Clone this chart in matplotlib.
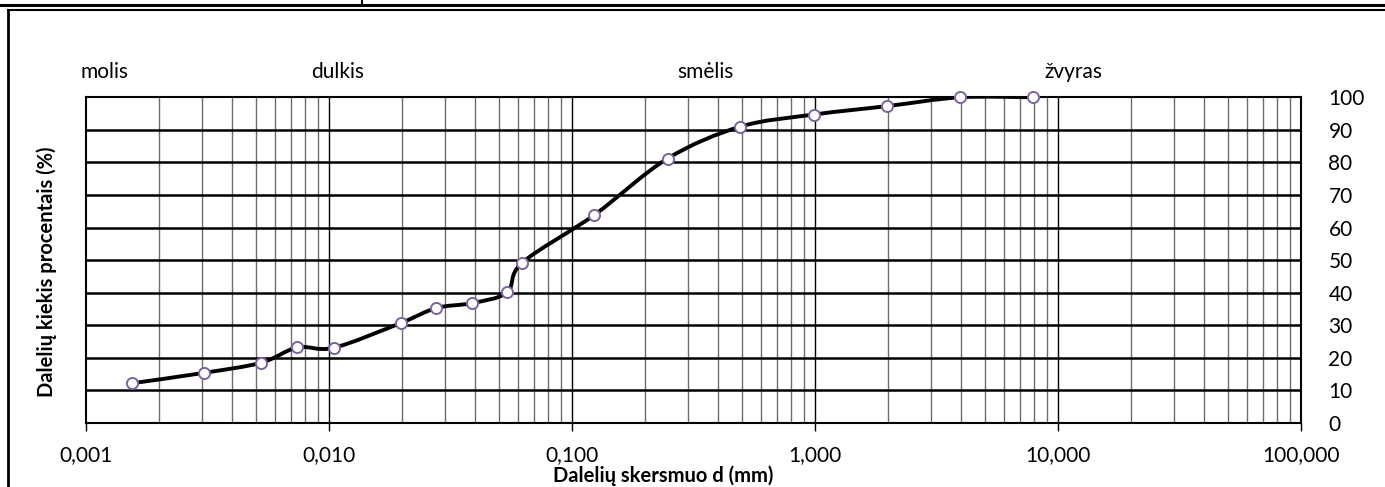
import numpy as np
import matplotlib
matplotlib.use("Agg")
import matplotlib.pyplot as plt
from matplotlib.path import Path
import matplotlib.patches as patches
from matplotlib.lines import Line2D
from matplotlib.ticker import FixedLocator, NullFormatter

plt.rcParams['font.family'] = ['Lato', 'DejaVu Sans']

# skersmuo d (mm) ir praėjusių dalelių kiekis (%)
d_mm = [0.00155, 0.00307, 0.00527, 0.00743, 0.0105, 0.0198, 0.0277, 0.0389,
        0.0542, 0.0625, 0.124, 0.248, 0.495, 0.99, 1.99, 3.97, 7.94]
kiekis = [12.2, 15.4, 18.5, 23.2, 23.1, 30.7, 35.3, 36.8,
          40.1, 49.2, 63.9, 81.2, 91.0, 94.7, 97.3, 100.0, 100.0]

x_ticks = [0.001, 0.01, 0.1, 1, 10, 100]
x_tick_labels = ['0,001', '0,010', '0,100', '1,000', '10,000', '100,000']
y_ticks = list(range(0, 101, 10))

zonos = ['molis', 'dulkis', 'smėlis', 'žvyras']
zonu_x = [80, 311, 677, 1044]   # kairys kraštas, px

W, H = 1385, 487
fig = plt.figure(figsize=(W / 100, H / 100), dpi=100)
L, R, T, B = 85.7, 1300.7, 97.3, 423.0
ax = fig.add_axes([L / W, 1 - B / H, (R - L) / W, (B - T) / H])

ax.set_xscale('log')
ax.set_xlim(0.001, 100)
ax.set_ylim(0, 100)

# tinklelis
minors = [m * 10.0 ** e for e in range(-3, 2) for m in range(2, 10)]
for xv in minors:
    ax.axvline(xv, color='#6e6e6e', lw=1.0, zorder=1)
for xv in x_ticks[1:-1]:
    ax.axvline(xv, color='black', lw=1.0, zorder=1)
for yv in y_ticks[1:-1]:
    ax.axhline(yv, color='black', lw=1.8, zorder=1)

for s in ['left', 'right', 'top', 'bottom']:
    ax.spines[s].set_linewidth(1.5)
    ax.spines[s].set_color('black')

ax.xaxis.set_major_locator(FixedLocator(x_ticks))
ax.set_xticklabels(x_tick_labels)
ax.xaxis.set_minor_locator(FixedLocator([]))
ax.xaxis.set_minor_formatter(NullFormatter())
ax.tick_params(axis='x', which='major', direction='out', length=6, width=1,
               labelsize=15, pad=10)

ax.yaxis.tick_right()
ax.set_yticks(y_ticks)
ax.tick_params(axis='y', which='major', length=0, labelsize=15, pad=20)
for lab in ax.get_yticklabels():
    lab.set_horizontalalignment('left')

# glotni kreivė (Excel stiliaus Bezier, skaičiuojama ekrano mastelyje)
sx, sy = 243.0, 3.257
u = np.log10(d_mm) * sx
v = np.array(kiekis) * sy
n = len(u)
verts = [(u[0], v[0])]
codes = [Path.MOVETO]
for i in range(n - 1):
    i0 = max(i - 1, 0)
    i3 = min(i + 2, n - 1)
    c1 = (u[i] + (u[i + 1] - u[i0]) / 6, v[i] + (v[i + 1] - v[i0]) / 6)
    c2 = (u[i + 1] - (u[i3] - u[i]) / 6, v[i + 1] - (v[i3] - v[i]) / 6)
    verts += [c1, c2, (u[i + 1], v[i + 1])]
    codes += [Path.CURVE4] * 3
verts = [(10 ** (a / sx), b / sy) for a, b in verts]
curve = patches.PathPatch(Path(verts, codes), fill=False, edgecolor='black',
                          lw=2.8, zorder=3, capstyle='round', joinstyle='round')
ax.add_patch(curve)

ax.plot(d_mm, kiekis, 'o', ms=8, mfc='white', mec='#7f63a1', mew=1.4,
        zorder=4, clip_on=False)

# zonų pavadinimai
for name, px in zip(zonos, zonu_x):
    fig.text(px / W, 1 - 72 / H, name, fontsize=15, ha='left', va='center')

fig.text(663 / W, 1 - 476 / H, 'Dalelių skersmuo d (mm)', fontsize=14.5,
         fontweight='bold', ha='center', va='center')
fig.text(47 / W, 1 - 272 / H, 'Dalelių kiekis procentais (%)', fontsize=14.5,
         fontweight='bold', ha='center', va='center', rotation=90)

# rėmeliai
def fl(x0, y0, x1, y1, lw, c='black'):
    fig.add_artist(Line2D([x0 / W, x1 / W], [1 - y0 / H, 1 - y1 / H],
                          transform=fig.transFigure, color=c, lw=lw))

fl(0, 5, W, 5, 2.2)
fl(362, 0, 362, 5, 1.5)
fl(8, 10, W, 10, 1.5)
fl(8, 10, 8, H, 2.0)

fig.savefig('out.png', dpi=100)
